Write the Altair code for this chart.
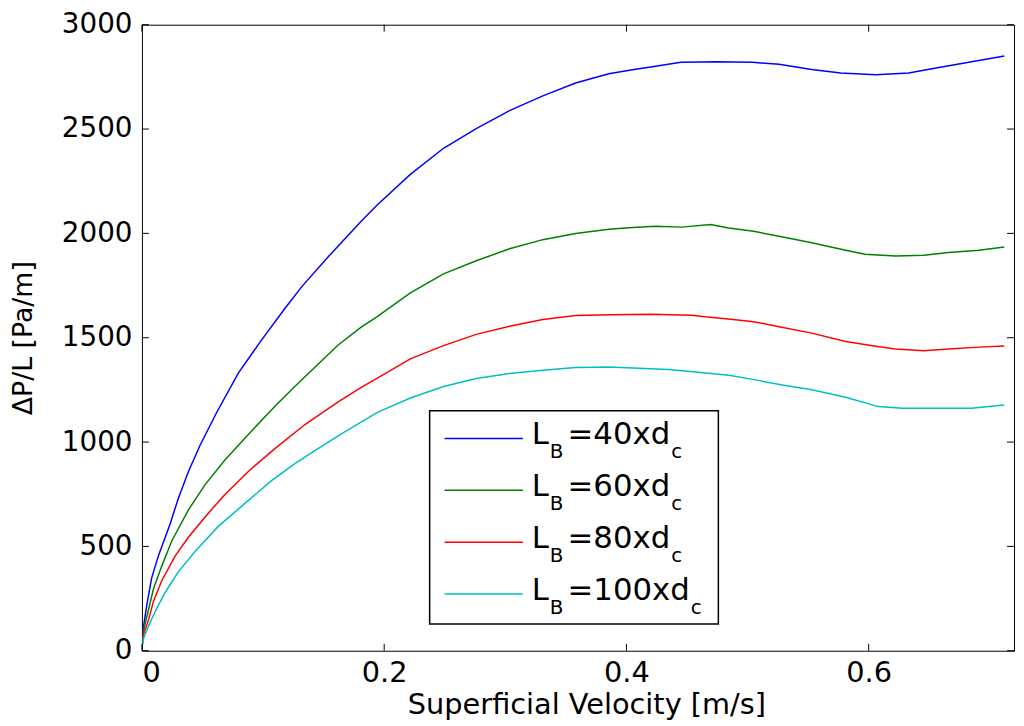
import altair as alt
import pandas as pd

# ---- data ----
series_names = ["40", "60", "80", "100"]
series_colors = ["#0000FF", "#008000", "#FF0000", "#00BFBF"]

v40 = [0.0008, 0.0014, 0.004, 0.008, 0.0137, 0.0234, 0.030, 0.0385, 0.048, 0.0618, 0.0797, 0.099,
       0.118, 0.132, 0.154, 0.181, 0.194, 0.2216, 0.249, 0.276, 0.3035, 0.331, 0.358, 0.3855, 0.405,
       0.424, 0.445, 0.475, 0.504, 0.526, 0.553, 0.577, 0.606, 0.633, 0.658, 0.685, 0.712]
p40 = [60, 119, 219, 348, 457, 610, 730, 860, 985, 1143, 1332, 1491,
       1640, 1745, 1889, 2058, 2135, 2283, 2408, 2502, 2588, 2659, 2721, 2765, 2784,
       2801, 2820, 2822, 2820, 2810, 2785, 2769, 2760, 2769, 2795, 2822, 2850]

v60 = [0.0008, 0.0014, 0.0055, 0.0096, 0.0165, 0.0247, 0.0385, 0.052, 0.0687, 0.0907, 0.11, 0.126,
       0.143, 0.162, 0.181, 0.194, 0.2216, 0.249, 0.276, 0.3035, 0.331, 0.358, 0.3855, 0.405, 0.424,
       0.446, 0.4695, 0.4845, 0.505, 0.526, 0.553, 0.581, 0.597, 0.622, 0.6455, 0.666, 0.691, 0.712]
p60 = [50, 99, 199, 298, 408, 527, 676, 795, 915, 1054, 1173, 1265,
       1360, 1465, 1551, 1600, 1715, 1806, 1869, 1926, 1970, 1999, 2020, 2028, 2034,
       2030, 2042, 2026, 2010, 1986, 1955, 1919, 1900, 1892, 1895, 1908, 1919, 1935]

v80 = [0.0008, 0.0014, 0.0055, 0.0096, 0.0165, 0.0275, 0.0385, 0.052, 0.0687, 0.088, 0.11, 0.1346,
       0.162, 0.181, 0.194, 0.2216, 0.249, 0.276, 0.3035, 0.331, 0.358, 0.386, 0.42, 0.454, 0.465,
       0.484, 0.505, 0.526, 0.553, 0.581, 0.606, 0.622, 0.6455, 0.666, 0.691, 0.712]
p80 = [40, 80, 149, 239, 338, 455, 545, 640, 750, 860, 970, 1084,
       1193, 1262, 1305, 1399, 1462, 1516, 1555, 1587, 1607, 1610, 1612, 1608, 1600,
       1590, 1577, 1553, 1522, 1482, 1459, 1446, 1438, 1446, 1455, 1460]

v100 = [0.0008, 0.0014, 0.0055, 0.011, 0.019, 0.030, 0.044, 0.063, 0.085, 0.107, 0.126, 0.143,
        0.165, 0.194, 0.2216, 0.249, 0.276, 0.3035, 0.331, 0.358, 0.3855, 0.435, 0.457, 0.4846,
        0.5066, 0.5286, 0.553, 0.581, 0.608, 0.6276, 0.685, 0.712]
p100 = [30, 60, 119, 189, 278, 378, 477, 596, 706, 815, 895, 960,
        1040, 1141, 1211, 1266, 1305, 1329, 1344, 1357, 1360, 1348, 1336, 1320,
        1298, 1273, 1251, 1215, 1170, 1162, 1162, 1178]

x_ticks = [0, 0.2, 0.4, 0.6]
y_ticks = [0, 500, 1000, 1500, 2000, 2500, 3000]

# ---- build table ----
rows = []
for name, vs, ps in [("40", v40, p40), ("60", v60, p60), ("80", v80, p80), ("100", v100, p100)]:
    for i, (v, p) in enumerate(zip(vs, ps)):
        rows.append({"series": name, "v": v, "p": p, "order": i})
df = pd.DataFrame(rows)

W, H = 879, 631
TOP = 14
FONT = "DejaVu Sans"
TICK = 7

xscale = alt.Scale(domain=[0, 0.72], nice=False, zero=False)
yscale = alt.Scale(domain=[0, 3000], nice=False)

lines = alt.Chart(df).mark_line(strokeWidth=1.5, clip=True).encode(
    x=alt.X("v:Q", scale=xscale,
            axis=alt.Axis(values=x_ticks, format=".1~f", title="Superficial Velocity [m/s]",
                          titleX=448, titleY=63, titleBaseline="alphabetic",
                          titleAlign="center", labelPadding=8, labelFontSize=29)),
    y=alt.Y("p:Q", scale=yscale,
            axis=alt.Axis(values=y_ticks, format="d", title="ΔP/L [Pa/m]",
                          titleX=-111, titleY=H / 2, titleBaseline="alphabetic",
                          titleAlign="center", titleAngle=270, labelPadding=10, labelFontSize=28)),
    color=alt.Color("series:N", scale=alt.Scale(domain=series_names, range=series_colors), legend=None),
    order="order:Q",
)

one = alt.Data(values=[{"k": 0}])
xt = alt.Data(values=[{"t": t} for t in x_ticks])
yt = alt.Data(values=[{"t": t} for t in y_ticks])

tick_style = dict(color="black", strokeWidth=1)
ticks_bottom = alt.Chart(xt).mark_rule(**tick_style).encode(
    x=alt.X("t:Q", scale=xscale), y=alt.value(H), y2=alt.value(H - TICK))
ticks_top = alt.Chart(xt).mark_rule(**tick_style).encode(
    x=alt.X("t:Q", scale=xscale), y=alt.value(0), y2=alt.value(TICK))
ticks_left = alt.Chart(yt).mark_rule(**tick_style).encode(
    y=alt.Y("t:Q", scale=yscale), x=alt.value(0), x2=alt.value(TICK))
ticks_right = alt.Chart(yt).mark_rule(**tick_style).encode(
    y=alt.Y("t:Q", scale=yscale), x=alt.value(W - TICK), x2=alt.value(W))

# ---- legend (drawn by hand for subscripts) ----
OFF = 14 - (8 + TOP)  # shift legend pixel positions to new plot top
legend_layers = [
    alt.Chart(one).mark_rect(fill="white", stroke="black", strokeWidth=1.5).encode(
        x=alt.value(290), x2=alt.value(581), y=alt.value(397 + OFF), y2=alt.value(612 + OFF))
]

# DejaVu Sans advance widths (em units)
adv = {"=": 0.838, "0": 0.636, "1": 0.636, "4": 0.636, "6": 0.636, "8": 0.636,
       "x": 0.592, "d": 0.635}
MAIN, SUB = 31, 20
for i, (name, col) in enumerate(zip(series_names, series_colors)):
    ly = 425 + OFF + 52.3 * i
    base = ly + 6
    sub_base = base + 14
    legend_layers.append(
        alt.Chart(one).mark_rule(color=col, strokeWidth=1.5).encode(
            x=alt.value(305), x2=alt.value(384), y=alt.value(ly)))
    txt = "=" + name + "xd"
    w = sum(adv[c] for c in txt) * MAIN
    pieces = [("L", 393, base, MAIN), ("B", 411, sub_base, SUB),
              (txt, 429, base, MAIN), ("c", 429 + w + 1, sub_base, SUB)]
    for s, px, py, fs in pieces:
        legend_layers.append(
            alt.Chart(one).mark_text(align="left", baseline="alphabetic", font=FONT,
                                     fontSize=fs, color="black").encode(
                x=alt.value(px), y=alt.value(py), text=alt.value(s)))

chart = alt.layer(lines, ticks_bottom, ticks_top, ticks_left, ticks_right, *legend_layers).properties(
    width=W, height=H,
    autosize=alt.AutoSizeParams(type="none"),
    padding={"left": 135, "top": TOP, "right": 2, "bottom": 72},
    background="white",
).configure_view(
    stroke="black", strokeWidth=1
).configure_axis(
    domain=False, ticks=False, tickSize=0, grid=False,
    labelFont=FONT, labelColor="black",
    titleFont=FONT, titleFontWeight="normal", titleColor="black",
).configure_axisX(
    titleFontSize=29
).configure_axisY(
    titleFontSize=27
)

chart.save("out.html", embed_options={"renderer": "svg", "actions": False})
